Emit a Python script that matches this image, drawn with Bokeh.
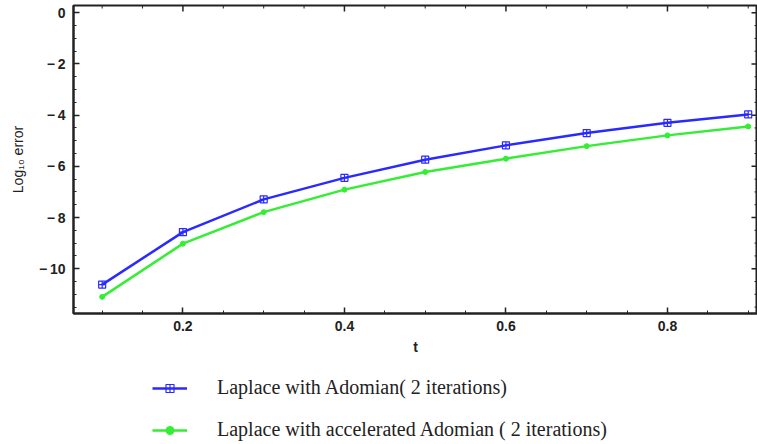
from bokeh.plotting import figure
from bokeh.layouts import column
from bokeh.models import (Range1d, FixedTicker, Legend, LegendItem,
                          CustomJSTickFormatter)
from bokeh.embed import file_html
from bokeh.resources import INLINE

t = [0.1, 0.2, 0.3, 0.4, 0.5, 0.6, 0.7, 0.8, 0.9]
adomian = [-10.62, -8.57, -7.29, -6.45, -5.74, -5.18, -4.70, -4.30, -3.97]
accelerated = [-11.10, -9.02, -7.79, -6.91, -6.22, -5.70, -5.21, -4.79, -4.44]
x_major = [0.2, 0.4, 0.6, 0.8]
x_minor = [0.1, 0.15, 0.25, 0.3, 0.35, 0.45, 0.5, 0.55, 0.65, 0.7, 0.75, 0.85, 0.9]
y_major = [0, -2, -4, -6, -8, -10]
y_minor = [v * 0.5 for v in range(-23, 1) if v % 4 != 0]
label_a = "Laplace with Adomian( 2 iterations)"
label_b = "Laplace with accelerated Adomian ( 2 iterations)"

BLUE = "#2a2aff"
GREEN = "#33ee33"
DARK = "#222222"

X0, X1 = 0.0645, 0.9115
Y0, Y1 = -11.75, 0.285
FW, FH = 684, 308   # frame size in px

p = figure(width=757, height=360, output_backend="svg", toolbar_location=None,
           x_range=Range1d(X0, X1), y_range=Range1d(Y0, Y1),
           min_border_left=73, min_border_right=0, min_border_top=5,
           min_border_bottom=47, background_fill_color="white",
           border_fill_color="white")
p.grid.visible = False
p.outline_line_color = DARK
p.outline_line_width = 2

fmt = CustomJSTickFormatter(code="""
if (tick == 0) return "0";
if (tick < 0) return "\u2212\u2009" + Math.abs(tick);
return tick.toFixed(1);
""")

def style_axis(ax):
    ax.axis_line_color = DARK
    ax.axis_line_width = 2
    ax.major_tick_in = 6
    ax.major_tick_out = 0
    ax.minor_tick_in = 3
    ax.minor_tick_out = 0
    ax.major_tick_line_width = 1.5
    ax.major_tick_line_color = DARK
    ax.minor_tick_line_color = DARK
    ax.major_label_text_font = "Liberation Sans"
    ax.major_label_text_font_style = "bold"
    ax.major_label_text_font_size = "14px"
    ax.major_label_text_color = DARK
    ax.axis_label_text_font = "Liberation Sans"
    ax.axis_label_text_font_size = "14px"
    ax.axis_label_text_color = DARK

xax = p.xaxis[0]
xax.ticker = FixedTicker(ticks=x_major, minor_ticks=x_minor)
xax.formatter = fmt
xax.axis_label = "t"
style_axis(xax)
xax.axis_label_text_font_style = "bold"
xax.major_label_standoff = 7
xax.axis_label_standoff = 5

yax = p.yaxis[0]
yax.ticker = FixedTicker(ticks=y_major, minor_ticks=y_minor)
yax.formatter = fmt
yax.axis_label = "Log\u2081\u2080 error"
style_axis(yax)
yax.axis_label_text_font_style = "normal"
yax.major_label_standoff = 8
yax.axis_label_standoff = 10

# frame ticks on the top and right edges (inward), from the tick lists
dx_major = (X1 - X0) * 6 / FW
dx_minor = (X1 - X0) * 3 / FW
dy_major = (Y1 - Y0) * 6 / FH
dy_minor = (Y1 - Y0) * 3 / FH
p.segment(x0=x_major, y0=[Y1] * len(x_major), x1=x_major,
          y1=[Y1 - dy_major] * len(x_major), line_color=DARK, line_width=1.5)
p.segment(x0=x_minor, y0=[Y1] * len(x_minor), x1=x_minor,
          y1=[Y1 - dy_minor] * len(x_minor), line_color=DARK, line_width=1)
p.segment(x0=[X1] * len(y_major), y0=y_major, x1=[X1 - dx_major] * len(y_major),
          y1=y_major, line_color=DARK, line_width=1.5)
p.segment(x0=[X1] * len(y_minor), y0=y_minor, x1=[X1 - dx_minor] * len(y_minor),
          y1=y_minor, line_color=DARK, line_width=1)

def draw(fig):
    la = fig.line(t, adomian, color=BLUE, line_width=2.5)
    ma = fig.scatter(t, adomian, marker="square_cross", size=7, line_color=BLUE,
                     fill_color=None, line_width=1.2)
    lb = fig.line(t, accelerated, color=GREEN, line_width=2.5)
    mb = fig.scatter(t, accelerated, marker="circle", size=5, line_color=GREEN,
                     fill_color=GREEN)
    return la, ma, lb, mb

draw(p)

# legend panel below the chart (its data lie outside its own view)
q = figure(width=757, height=84, output_backend="svg", toolbar_location=None,
           x_range=Range1d(10, 11), y_range=Range1d(10, 11),
           min_border=0, x_axis_type=None, y_axis_type=None,
           background_fill_color="white", border_fill_color="white")
q.grid.visible = False
q.outline_line_color = None
la, ma, lb, mb = draw(q)

legend = Legend(items=[LegendItem(label=label_a, renderers=[la, ma]),
                       LegendItem(label=label_b, renderers=[lb, mb])],
                location=(79, 3), orientation="vertical",
                border_line_color=None, background_fill_alpha=0,
                glyph_width=35, glyph_height=20, label_standoff=30,
                spacing=19, padding=4, margin=0,
                label_text_font="Liberation Serif", label_text_font_size="20px",
                label_text_color=DARK)
q.add_layout(legend, "center")

layout = column(p, q, spacing=0)
open("out.html", "w").write(file_html(layout, INLINE))
